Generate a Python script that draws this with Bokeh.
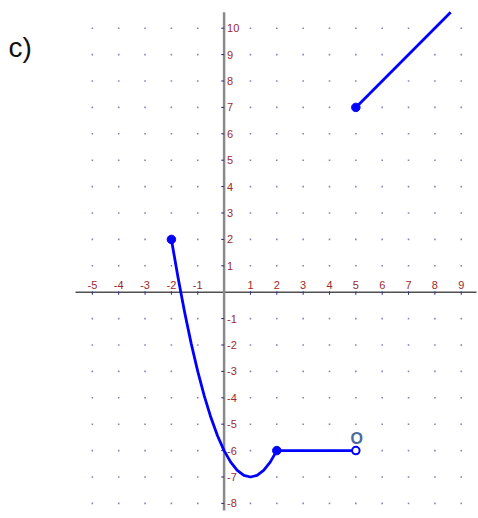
from bokeh.plotting import figure
from bokeh.models import Label
from bokeh.core.properties import value
from bokeh.embed import file_html
from bokeh.resources import INLINE

# ---- data ----
x_ticks = [-5, -4, -3, -2, -1, 1, 2, 3, 4, 5, 6, 7, 8, 9]
y_ticks = [-8, -7, -6, -5, -4, -3, -2, -1, 1, 2, 3, 4, 5, 6, 7, 8, 9, 10]
x_tick_labels = ["-5", "-4", "-3", "-2", "-1", "1", "2", "3", "4", "5", "6", "7", "8", "9"]
y_tick_labels = ["-8", "-7", "-6", "-5", "-4", "-3", "-2", "-1",
                 "1", "2", "3", "4", "5", "6", "7", "8", "9", "10"]

# parabola piece (x from -2 to 2)
curve_x = [-2, -1.75, -1.5, -1.25, -1, -0.75, -0.5, -0.25, 0,
           0.25, 0.5, 0.75, 1, 1.25, 1.5, 1.75, 2]
curve_y = [2, 0.5625, -0.75, -1.9375, -3, -3.9375, -4.75, -5.4375, -6,
           -6.4375, -6.75, -6.9375, -7, -6.9375, -6.75, -6.4375, -6]
# horizontal piece
flat_x = [2, 5]
flat_y = [-6, -6]
# rising line piece
line_x = [5, 8.6]
line_y = [7, 10.6]
# endpoints
closed_x = [-2, 2, 5]
closed_y = [2, -6, 7]
open_x = [5]
open_y = [-6]
open_label = "O"

# ---- layout ----
W, H = 478, 518
x_start, x_end = -8.486, 9.655
y_start, y_end = -8.572, 11.049

p = figure(width=W, height=H, output_backend="svg", toolbar_location=None,
           x_range=(x_start, x_end), y_range=(y_start, y_end),
           x_axis_type=None, y_axis_type=None,
           min_border=0, min_border_left=0, min_border_right=0,
           min_border_top=0, min_border_bottom=0)
p.outline_line_color = None
p.background_fill_color = "white"
p.border_fill_color = "white"
p.xgrid.visible = False
p.ygrid.visible = False

# grid dots
gx = [x for x in x_ticks for y in y_ticks]
gy = [y for x in x_ticks for y in y_ticks]
p.scatter(gx, gy, marker="square", size=1.6, fill_color="#5a5ab4",
          line_color=None, fill_alpha=0.75)

# axes
p.segment(x0=[-5.64], y0=[0], x1=[9.58], y1=[0], line_color="#505050", line_width=1.5)
p.segment(x0=[0], y0=[-8.27], x1=[0], y1=[10.6], line_color="#8a8a8a", line_width=2.5)

# ticks
p.segment(x0=x_ticks, y0=[0.03] * len(x_ticks), x1=x_ticks, y1=[-0.1] * len(x_ticks),
          line_color="#2b2b8c", line_width=1)
p.segment(x0=[-0.11] * len(y_ticks), y0=y_ticks, x1=[0.0] * len(y_ticks), y1=y_ticks,
          line_color="#2b2b8c", line_width=1)

# tick labels
p.text(x=x_ticks, y=[0] * len(x_ticks), text=x_tick_labels, y_offset=-3,
       text_align="center", text_baseline="bottom",
       text_font=value("Liberation Sans"), text_font_size="11px", text_color="#9b2a2e")
p.text(x=[0] * len(y_ticks), y=y_ticks, text=y_tick_labels, x_offset=3,
       text_align="left", text_baseline="middle",
       text_font=value("Liberation Sans"), text_font_size="11px", text_color="#9b2a2e")

# function pieces
blue = "#0000ff"
p.line(curve_x, curve_y, line_color=blue, line_width=2.8, line_join="round")
p.line(flat_x, flat_y, line_color=blue, line_width=2.8)
p.line(line_x, line_y, line_color=blue, line_width=2.8)
p.scatter(closed_x, closed_y, size=8.5, fill_color=blue, line_color=blue)
p.scatter(open_x, open_y, size=7.5, fill_color="white", line_color=blue, line_width=2)
p.text(x=open_x, y=open_y, text=[open_label], x_offset=1, y_offset=-4,
       text_align="center", text_baseline="bottom",
       text_font=value("Liberation Sans"), text_font_size="16px",
       text_font_style="bold", text_color="#4a6a9c")

# panel label
p.add_layout(Label(x=8, y=H - 47, x_units="screen", y_units="screen", text="c)",
                   text_font="Liberation Sans", text_font_size="28px",
                   text_color="#111111", text_baseline="alphabetic"))

open("out.html", "w").write(file_html(p, INLINE))
